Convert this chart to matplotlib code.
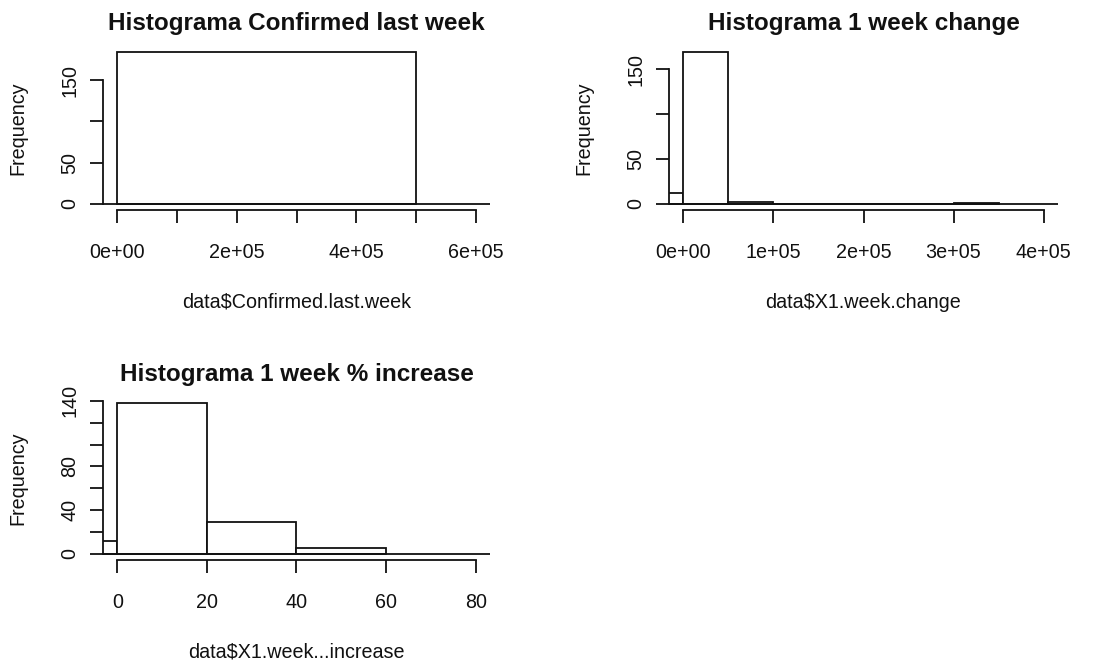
import numpy as np
import matplotlib
matplotlib.use("Agg")
import matplotlib.pyplot as plt

plt.rcParams["font.family"] = ["Liberation Sans", "DejaVu Sans"]

# Histogram bins
conf_edges = [0, 500000]
conf_counts = [184]
conf_xticks = [0, 100000, 200000, 300000, 400000, 500000, 600000]
conf_xlabels = ["0e+00", "", "2e+05", "", "4e+05", "", "6e+05"]
conf_yticks = [0, 50, 100, 150]
conf_ylabels = ["0", "50", "", "150"]

change_edges = [-50000, 0, 50000, 100000, 150000, 200000, 250000, 300000, 350000]
change_counts = [12, 169, 2, 0, 0, 0, 0, 1]
change_xticks = [0, 100000, 200000, 300000, 400000]
change_xlabels = ["0e+00", "1e+05", "2e+05", "3e+05", "4e+05"]
change_yticks = [0, 50, 100, 150]
change_ylabels = ["0", "50", "", "150"]

pct_edges = [-20, 0, 20, 40, 60]
pct_counts = [12, 138, 29, 5]
pct_xticks = [0, 20, 40, 60, 80]
pct_xlabels = ["0", "20", "40", "60", "80"]
pct_yticks = [0, 20, 40, 60, 80, 100, 120, 140]
pct_ylabels = ["0", "", "40", "", "80", "", "", "140"]

W, H = 1099, 666
LW = 1.3


def px_axes(fig, left, top, right, bottom):
    return fig.add_axes([left / W, 1 - bottom / H, (right - left) / W, (bottom - top) / H])


def r_hist(ax, edges, counts, xmax, xticks, xlabels, yticks, ylabels, title, xlabel):
    edges = np.array(edges, dtype=float)
    counts = np.array(counts, dtype=float)
    ax.bar(edges[:-1], counts, width=np.diff(edges), align="edge",
           facecolor="white", edgecolor="#111111", linewidth=LW)
    ax.axhline(0, color="#111111", linewidth=LW)
    ymax = counts.max()
    ax.set_xlim(-0.04 * xmax, 1.04 * xmax)
    ax.set_ylim(-0.04 * ymax, 1.04 * ymax)

    for s in ["top", "right"]:
        ax.spines[s].set_visible(False)
    ax.spines["left"].set_bounds(yticks[0], yticks[-1])
    ax.spines["bottom"].set_bounds(xticks[0], xticks[-1])
    for s in ["left", "bottom"]:
        ax.spines[s].set_linewidth(LW)
        ax.spines[s].set_color("#111111")

    ax.set_xticks(xticks)
    ax.set_xticklabels(xlabels)
    ax.set_yticks(yticks)
    ax.set_yticklabels(ylabels, rotation=90, va="center")
    ax.tick_params(axis="both", direction="out", length=9.1, width=LW,
                   labelsize=14.2, colors="#111111")
    ax.tick_params(axis="x", pad=14.5)
    ax.tick_params(axis="y", pad=8)

    ax.set_title(title, fontsize=17.5, fontweight="bold", pad=11.5, color="#111111")
    ax.set_xlabel(xlabel, fontsize=14.2, va="center", color="#111111")
    ax.set_ylabel("Frequency", fontsize=14.2, va="center", ha="center", color="#111111")
    bb = ax.get_position()
    w_px = bb.width * W
    h_px = bb.height * H
    ax.xaxis.set_label_coords(0.5, -92 / h_px)
    ax.yaxis.set_label_coords(-85.5 / w_px, 0.5)


fig = plt.figure(figsize=(W / 100, H / 100), dpi=100)

ax1 = px_axes(fig, 103, 46, 490, 210)
r_hist(ax1, conf_edges, conf_counts, 600000, conf_xticks, conf_xlabels,
       conf_yticks, conf_ylabels, "Histograma Confirmed last week",
       "data$Confirmed.last.week")

ax2 = px_axes(fig, 669, 46, 1058, 210)
r_hist(ax2, change_edges, change_counts, 400000, change_xticks, change_xlabels,
       change_yticks, change_ylabels, "Histograma 1 week change",
       "data$X1.week.change")

ax3 = px_axes(fig, 103, 397, 490, 560)
r_hist(ax3, pct_edges, pct_counts, 80, pct_xticks, pct_xlabels,
       pct_yticks, pct_ylabels, "Histograma 1 week % increase",
       "data$X1.week...increase")

fig.savefig("out.png", dpi=100, facecolor="white")
